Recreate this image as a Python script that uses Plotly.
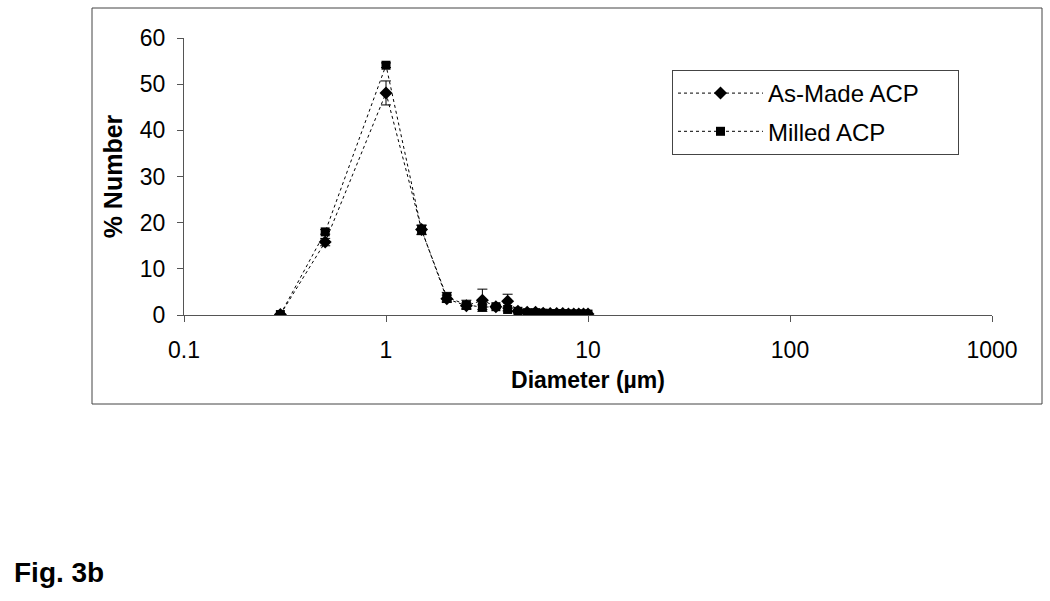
import plotly.graph_objects as go

diameter = [0.3, 0.5, 1, 1.5, 2, 2.5, 3, 3.5, 4, 4.5, 5, 5.5, 6, 6.5, 7, 7.5, 8, 8.5, 9, 9.5, 10]
as_made = [0.1, 15.8, 48.1, 18.5, 3.5, 2.0, 3.2, 1.8, 3.0, 0.8, 0.6, 0.6, 0.4, 0.3, 0.3, 0.3, 0.2, 0.2, 0.2, 0.2, 0.2]
as_made_err = [0.1, 0.8, 2.6, 1.0, 0.8, 0.6, 2.4, 0.3, 1.5, 0.3, 0.2, 0.2, 0.1, 0.1, 0.1, 0.1, 0.1, 0.1, 0.1, 0.1, 0.1]
milled = [0.1, 18.0, 54.1, 18.4, 3.9, 2.2, 1.7, 1.8, 1.2, 0.8, 0.5, 0.5, 0.4, 0.3, 0.3, 0.3, 0.2, 0.2, 0.2, 0.2, 0.2]
milled_err = [0.1, 0.5, 0.5, 1.0, 1.0, 1.0, 0.5, 0.3, 0.3, 0.3, 0.2, 0.2, 0.1, 0.1, 0.1, 0.1, 0.1, 0.1, 0.1, 0.1, 0.1]
series_names = ["As-Made ACP", "Milled ACP"]

FONT = "Liberation Sans, Arial, sans-serif"
PAD = "\u00a0" * 5

fig = go.Figure()
fig.add_trace(go.Scatter(
    x=diameter, y=as_made, name=series_names[0] + PAD, mode="lines+markers", legendgroup="a",
    line=dict(color="black", width=1, dash="dot"),
    marker=dict(symbol="diamond", size=10, color="black"),
    error_y=dict(type="data", array=as_made_err, color="black", thickness=1, width=5),
))
fig.add_trace(go.Scatter(
    x=diameter, y=milled, name=series_names[1] + PAD, mode="lines+markers", legendgroup="b",
    line=dict(color="black", width=1, dash="dot"),
    marker=dict(symbol="square", size=9, color="black"),
    error_y=dict(type="data", array=milled_err, color="black", thickness=1, width=5),
))

L, R, T, B = 184, 58, 38, 286
pw = 1050 - L - R
ph = 601 - T - B

fig.update_layout(
    width=1050, height=601,
    margin=dict(l=L, r=R, t=T, b=B, autoexpand=False),
    paper_bgcolor="white", plot_bgcolor="white",
    font=dict(family=FONT, size=23, color="black"),
    xaxis=dict(
        type="log", range=[-1, 3],
        tickvals=[0.1, 1, 10, 100, 1000], ticktext=["0.1", "1", "10", "100", "1000"],
        ticks="outside", ticklen=6, tickcolor="#555", showline=True, linecolor="#555",
        linewidth=1, showgrid=False, zeroline=False, ticklabelstandoff=8,
        title=dict(text="<b>Diameter (µm)</b>", font=dict(size=23), standoff=10),
    ),
    yaxis=dict(
        range=[0, 60], tickvals=[0, 10, 20, 30, 40, 50, 60],
        ticks="outside", ticklen=6, tickcolor="#555", showline=True, linecolor="#555",
        linewidth=1, showgrid=False, zeroline=False, ticklabelstandoff=7,
        title=dict(text="<b>% Number</b>", font=dict(size=25), standoff=10),
    ),
    legend=dict(
        x=(672 - L) / pw, y=1 - (70 - T) / ph, xanchor="left", yanchor="top",
        bordercolor="#444", borderwidth=1, bgcolor="white",
        font=dict(size=24), itemwidth=85, tracegroupgap=4, traceorder="grouped",
    ),
    showlegend=True,
)

fig.add_shape(type="rect", xref="paper", yref="paper",
              x0=(92 - L) / pw, x1=(1042 - L) / pw,
              y0=1 - (404 - T) / ph, y1=1 - (8 - T) / ph,
              line=dict(color="#444", width=1), layer="below")

fig.add_annotation(text="<b>Fig. 3b</b>", xref="paper", yref="paper",
                   x=(12 - L) / pw, y=1 - (572 - T) / ph, xanchor="left", yanchor="middle",
                   showarrow=False, font=dict(size=28, family=FONT, color="black"))

fig.write_html("out.html", config={"displayModeBar": False},
               post_script="document.body.style.margin='0px';")
